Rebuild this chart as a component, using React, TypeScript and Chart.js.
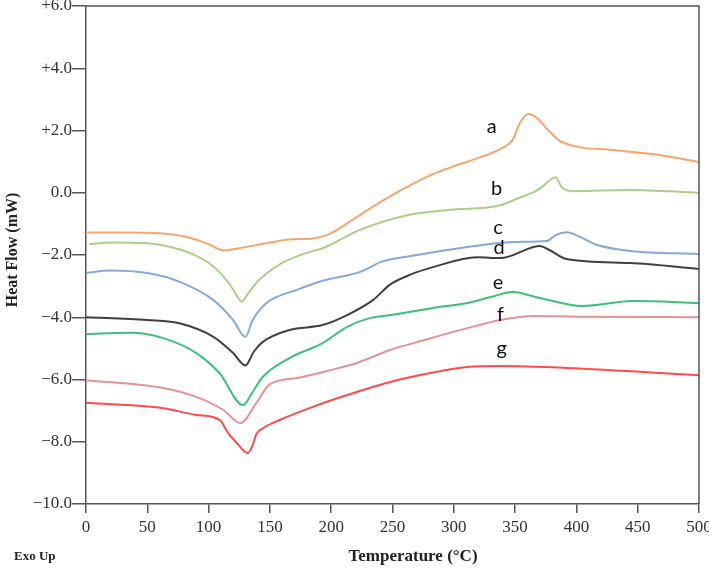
import { useEffect, useRef } from "react";
import { Chart, registerables } from "chart.js";

Chart.register(...registerables);

// temperature (°C) / heat flow (mW) pairs
const tempA = [0, 30, 60, 80, 100, 112, 125, 150, 165, 185, 200, 220, 242, 260, 283, 300, 320, 340, 348, 354, 361, 368, 376, 388, 430, 470, 500];
const flowA = [-1.28, -1.28, -1.3, -1.4, -1.65, -1.85, -1.78, -1.6, -1.5, -1.47, -1.3, -0.8, -0.25, 0.15, 0.6, 0.85, 1.12, 1.45, 1.7, 2.25, 2.53, 2.4, 2.05, 1.63, 1.37, 1.2, 0.99];

const tempB = [3, 20, 50, 70, 85, 100, 110, 120, 127, 132, 140, 158, 175, 195, 223, 262, 297, 338, 351, 369, 380, 383, 388, 397, 444, 500];
const flowB = [-1.65, -1.6, -1.62, -1.75, -1.94, -2.25, -2.6, -3.1, -3.5, -3.25, -2.85, -2.3, -2.0, -1.75, -1.2, -0.72, -0.55, -0.4, -0.2, 0.1, 0.45, 0.5, 0.18, 0.05, 0.09, 0.0];

const tempC = [0, 20, 50, 77, 104, 120, 130, 136, 147, 172, 191, 223, 232, 240, 270, 311, 351, 376, 383, 392, 403, 417, 444, 500];
const flowC = [-2.58, -2.5, -2.58, -2.87, -3.45, -4.09, -4.63, -4.09, -3.55, -3.12, -2.85, -2.55, -2.39, -2.23, -2.0, -1.74, -1.58, -1.55, -1.36, -1.27, -1.42, -1.68, -1.87, -1.97];

const tempD = [0, 50, 77, 104, 120, 130, 137, 144, 166, 193, 213, 234, 248, 264, 283, 319, 338, 365, 370, 378, 392, 444, 500];
const flowD = [-4.0, -4.09, -4.2, -4.63, -5.15, -5.55, -5.1, -4.8, -4.41, -4.25, -3.93, -3.45, -2.95, -2.64, -2.39, -2.07, -2.1, -1.74, -1.71, -1.84, -2.13, -2.26, -2.45];

const tempE = [0, 36, 63, 90, 109, 128, 136, 144, 166, 193, 213, 232, 248, 283, 311, 330, 348, 370, 405, 446, 500];
const flowE = [-4.54, -4.5, -4.67, -5.15, -5.8, -6.82, -6.4, -5.92, -5.31, -4.83, -4.31, -4.02, -3.93, -3.7, -3.54, -3.35, -3.19, -3.38, -3.64, -3.48, -3.54];

const tempF = [0, 63, 90, 112, 126, 139, 150, 172, 199, 221, 248, 270, 311, 338, 365, 400, 500];
const flowF = [-6.02, -6.27, -6.56, -6.98, -7.4, -6.75, -6.15, -5.95, -5.7, -5.47, -5.05, -4.8, -4.35, -4.09, -3.96, -3.98, -4.0];

const tempG = [0, 63, 90, 109, 116, 123, 132, 136, 139, 145, 158, 185, 213, 248, 280, 311, 338, 392, 500];
const flowG = [-6.75, -6.92, -7.14, -7.3, -7.72, -8.04, -8.36, -8.1, -7.75, -7.55, -7.3, -6.88, -6.5, -6.08, -5.8, -5.6, -5.57, -5.63, -5.86];

const seriesNames = ["a", "b", "c", "d", "e", "f", "g"];
const seriesColors = ["#F5A66F", "#A9CF8B", "#86A8DA", "#404040", "#3DC07A", "#E39393", "#FF4B4B"];
// where each letter sits (temperature, heat flow)
const labelTemps = [331, 335, 336, 337, 336, 338, 339];
const labelFlows = [2.14, 0.12, -1.12, -1.76, -2.9, -3.9, -5.0];

const yTicks = [-10, -8, -6, -4, -2, 0, 2, 4, 6];
const yTickLabels = ["\u221210.0", "\u22128.0", "\u22126.0", "\u22124.0", "\u22122.0", "0.0", "+2.0", "+4.0", "+6.0"];
const xTicks = [0, 50, 100, 150, 200, 250, 300, 350, 400, 450, 500];

const temps = [tempA, tempB, tempC, tempD, tempE, tempF, tempG];
const flows = [flowA, flowB, flowC, flowD, flowE, flowF, flowG];

const textPlugin = {
  id: "dscText",
  afterDraw(chart: any) {
    const { ctx, chartArea, scales } = chart;
    ctx.save();
    // box on top and right
    ctx.strokeStyle = "#555";
    ctx.lineWidth = 1.5;
    ctx.beginPath();
    ctx.moveTo(chartArea.left, chartArea.top);
    ctx.lineTo(chartArea.right, chartArea.top);
    ctx.lineTo(chartArea.right, chartArea.bottom);
    ctx.stroke();

    // series letters
    ctx.fillStyle = "#111";
    ctx.font = "20px Lato";
    ctx.textAlign = "center";
    ctx.textBaseline = "middle";
    seriesNames.forEach((n, i) => {
      ctx.fillText(n, scales.x.getPixelForValue(labelTemps[i]), scales.y.getPixelForValue(labelFlows[i]));
    });

    // axis titles
    ctx.fillStyle = "#222";
    ctx.font = "bold 17px 'Liberation Serif'";
    ctx.fillText("Temperature (\u00B0C)", 413, 557);
    ctx.save();
    ctx.translate(13, 250);
    ctx.rotate(-Math.PI / 2);
    ctx.font = "bold 16px 'Liberation Serif'";
    ctx.fillText("Heat Flow (mW)", 0, 0);
    ctx.restore();
    ctx.font = "bold 13px 'Liberation Serif'";
    ctx.textAlign = "left";
    ctx.fillText("Exo Up", 14, 557);
    ctx.restore();
  },
};

export default function App() {
  const chartRef = useRef<HTMLCanvasElement>(null);

  useEffect(() => {
    if (!chartRef.current) return;
    const ctx = chartRef.current.getContext("2d");
    if (!ctx) return;

    const myChart = new Chart(ctx, {
      type: "line",
      data: {
        datasets: seriesNames.map((n, i) => ({
          label: n,
          data: temps[i].map((t, j) => ({ x: t, y: flows[i][j] })),
          borderColor: seriesColors[i],
          borderWidth: 2,
          pointRadius: 0,
          cubicInterpolationMode: "monotone" as const,
          fill: false,
        })),
      },
      options: {
        animation: false,
        responsive: true,
        maintainAspectRatio: false,
        layout: { padding: { top: 6, right: 10, left: 0, bottom: 0 } },
        plugins: { legend: { display: false }, tooltip: { enabled: false } },
        scales: {
          x: {
            type: "linear",
            min: 0,
            max: 500,
            afterBuildTicks: (s: any) => {
              s.ticks = xTicks.map((v) => ({ value: v }));
            },
            afterFit: (s: any) => {
              s.height = 65;
              s.paddingLeft = 0;
              s.paddingRight = 0;
            },
            grid: { drawOnChartArea: false, drawTicks: true, tickLength: 9, color: "#555", lineWidth: 1.5 },
            border: { display: true, color: "#555", width: 1.5 },
            ticks: {
              color: "#333",
              padding: 4,
              maxRotation: 0,
              font: { family: "'Liberation Serif'", size: 17 },
            },
          },
          y: {
            type: "linear",
            min: -10,
            max: 6,
            afterBuildTicks: (s: any) => {
              s.ticks = yTicks.map((v) => ({ value: v }));
            },
            afterFit: (s: any) => {
              s.width = 86;
              s.paddingTop = 0;
              s.paddingBottom = 0;
            },
            grid: { drawOnChartArea: false, drawTicks: true, tickLength: 14, color: "#555", lineWidth: 1.5 },
            border: { display: true, color: "#555", width: 1.5 },
            ticks: {
              color: "#333",
              padding: 0,
              font: { family: "'Liberation Serif'", size: 17 },
              callback: (v: any) => yTickLabels[yTicks.indexOf(Number(v))] ?? "",
            },
          },
        },
      },
      plugins: [textPlugin],
    });

    return () => {
      myChart.destroy();
    };
  }, []);

  return (
    <div style={{ position: "absolute", left: 0, top: 0, width: 709, height: 569, background: "#fff" }}>
      <canvas ref={chartRef} />
    </div>
  );
}
